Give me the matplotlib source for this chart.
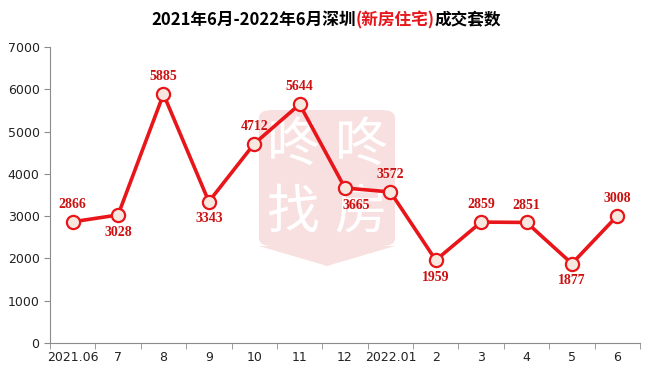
import matplotlib.pyplot as plt
from matplotlib.patches import FancyBboxPatch, Polygon

plt.rcParams['font.family'] = ['Noto Sans CJK SC', 'DejaVu Sans']

months = ['2021.06', '7', '8', '9', '10', '11', '12', '2022.01', '2', '3', '4', '5', '6']
deals = [2866, 3028, 5885, 3343, 4712, 5644, 3665, 3572, 1959, 2859, 2851, 1877, 3008]
# label placement: 1 = above the point, -1 = below
label_side = [1, -1, 1, -1, 1, 1, -1, 1, -1, 1, 1, -1, 1]
y_ticks = [0, 1000, 2000, 3000, 4000, 5000, 6000, 7000]

red = '#e8161a'
axis_grey = '#8c8c8c'
px_w, px_h = 652, 376

fig = plt.figure(figsize=(6.52, 3.76), dpi=100)
ax = fig.add_axes([50 / px_w, 33 / px_h, 590 / px_w, 296 / px_h])


def fpos(px, py):
    return px / px_w, 1 - py / px_h


# watermark logo (faint), drawn inside the axes but under the line
logo = FancyBboxPatch(fpos(259, 246), 136 / px_w, 136 / px_h,
                      boxstyle='round,pad=0,rounding_size=0.02',
                      transform=fig.transFigure, facecolor='#f8e0e0',
                      edgecolor='none', zorder=0, clip_on=False)
ax.add_patch(logo)
tip = Polygon([fpos(259, 246), fpos(395, 246), fpos(327, 266)], closed=True,
              transform=fig.transFigure, facecolor='#f8e0e0', edgecolor='none',
              zorder=0, clip_on=False)
ax.add_patch(tip)
for ch, (cx, cy) in zip('咚咚找房', [(293, 145), (361, 145), (293, 212), (361, 212)]):
    ax.text(*fpos(cx, cy), ch, transform=fig.transFigure, color='white',
            fontsize=38, ha='center', va='center', zorder=1)

x = list(range(len(months)))
ax.plot(x, deals, color=red, lw=2.6, marker='o', ms=9.5,
        markerfacecolor='#f6e8de', markeredgecolor=red, markeredgewidth=1.6, zorder=3)

for xi, v, s in zip(x, deals, label_side):
    dx = 8 if months[xi] == '12' else 0
    ax.annotate(str(v), (xi, v), xytext=(dx, 12.5 * s), textcoords='offset points',
                ha='center', va='center', color='#cc1111', fontsize=10,
                fontweight='bold', family='Liberation Serif', zorder=4)

ax.set_xlim(-0.5, len(months) - 0.5)
ax.set_ylim(0, 7000)
ax.set_yticks(y_ticks)
ax.set_xticks(x)
ax.set_xticklabels(months)
ax.set_xticks([i - 0.5 for i in range(len(months) + 1)], minor=True)
ax.tick_params(axis='x', which='major', length=0, pad=6, labelsize=9, colors='#222222')
ax.tick_params(axis='x', which='minor', length=4, direction='out', color=axis_grey)
ax.tick_params(axis='y', length=4, direction='out', color=axis_grey, labelsize=9,
               labelcolor='#222222')
for lbl in ax.get_xticklabels() + ax.get_yticklabels():
    lbl.set_family(['DejaVu Sans'])

for side in ['top', 'right']:
    ax.spines[side].set_visible(False)
for side in ['left', 'bottom']:
    ax.spines[side].set_color(axis_grey)

# title with red middle part
parts = [('2021年6月-2022年6月深圳', 'black'), ('(新房住宅)', red), ('成交套数', 'black')]
renderer = fig.canvas.get_renderer()
texts = []
for s, c in parts:
    texts.append(fig.text(0, 1 - 20 / px_h, s, color=c, fontsize=12,
                          fontweight='bold', va='center', ha='left'))
widths = [tt.get_window_extent(renderer).width for tt in texts]
start = (px_w - sum(widths)) / 2
for tt, w in zip(texts, widths):
    tt.set_x(start / px_w)
    start += w

fig.savefig('out.png', dpi=100)
